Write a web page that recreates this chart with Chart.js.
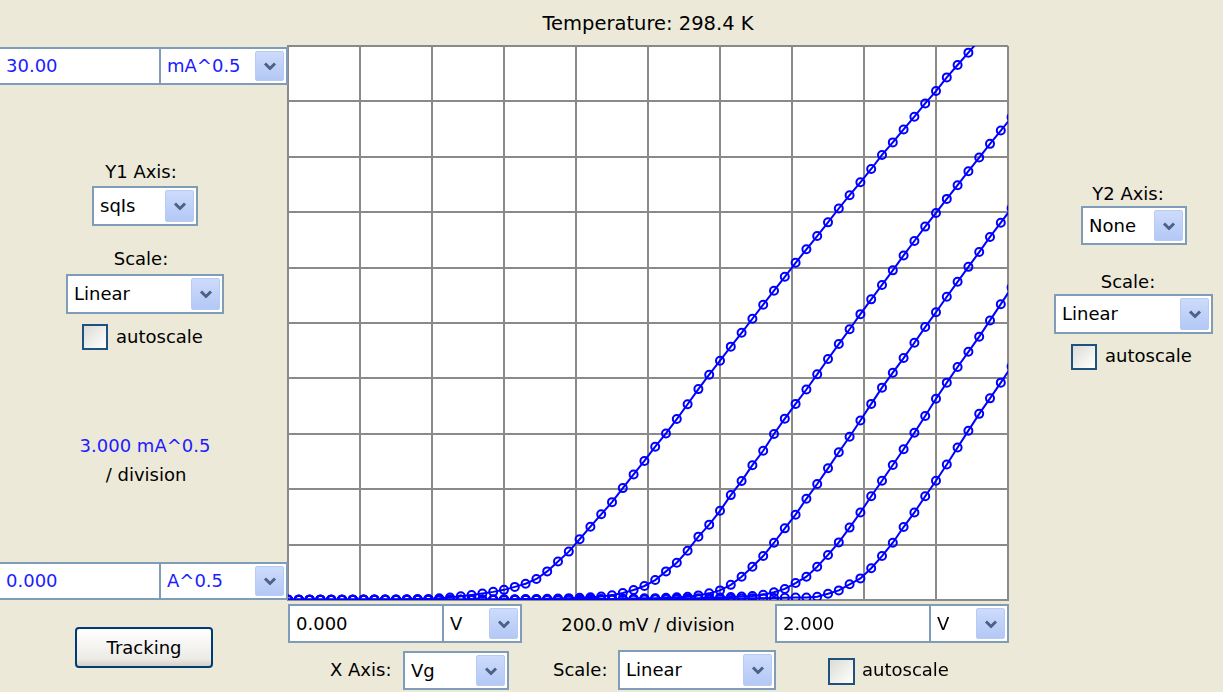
<!DOCTYPE html>
<html>
<head>
<meta charset="utf-8">
<script src="https://cdn.jsdelivr.net/npm/chart.js@4.4.0/dist/chart.umd.min.js"></script>
<style>
body { margin: 0; background: #ece9d8; font-family: "DejaVu Sans", sans-serif; font-size: 18px; }
#wrap { position: relative; width: 1223px; height: 692px; overflow: hidden; background: #ece9d8; }
#plot { position: absolute; left: 278px; top: 36px; }
.lbl { position: absolute; white-space: nowrap; color: #000; line-height: 22px; }
.c { transform: translateX(-50%); }
.blue { color: #1c1cff; }
.box { position: absolute; box-sizing: border-box; background: #fff; border: 2px solid #7f9db9; white-space: nowrap; }
.box span { position: absolute; left: 6px; top: 50%; transform: translateY(-50%); line-height: 22px; }
.btn { position: absolute; right: 2px; top: 2px; bottom: 2px; width: 29px; box-sizing: border-box;
  background: linear-gradient(#cddbfc, #b3c8f5); border: 1px solid #b9cbf3; border-radius: 2px; }
.btn svg { position: absolute; left: 50%; top: 50%; transform: translate(-50%, -50%); }
.chk { position: absolute; box-sizing: border-box; border: 2px solid #1c5180; background: linear-gradient(135deg, #dcdcd4, #ffffff); }
.push { position: absolute; box-sizing: border-box; border: 2px solid #003c74; border-radius: 4px;
  background: linear-gradient(#ffffff, #ecebe6 80%, #d6d0c5); display: flex; align-items: center; justify-content: center; }
</style>
</head>
<body>
<div id="wrap">
  <canvas id="plot" width="740" height="574"></canvas>

  <div class="lbl c" style="left:648px;top:13px;font-size:19.5px">Temperature: 298.4 K</div>

  <!-- colonna sinistra -->
  <div class="box" style="left:-2px;top:47px;width:163px;height:38px"><span class="blue">30.00</span></div>
  <div class="box" style="left:159px;top:47px;width:129px;height:38px"><span class="blue">mA^0.5</span><div class="btn"></div></div>
  <div class="lbl c" style="left:141px;top:161px">Y1 Axis:</div>
  <div class="box" style="left:92px;top:186px;width:106px;height:40px"><span>sqIs</span><div class="btn"></div></div>
  <div class="lbl c" style="left:141px;top:248px">Scale:</div>
  <div class="box" style="left:66px;top:274px;width:158px;height:40px"><span>Linear</span><div class="btn"></div></div>
  <div class="chk" style="left:82px;top:324px;width:26px;height:26px"></div>
  <div class="lbl" style="left:116px;top:326px">autoscale</div>
  <div class="lbl c blue" style="left:145px;top:435px">3.000 mA^0.5</div>
  <div class="lbl c" style="left:146px;top:464px">/ division</div>
  <div class="box" style="left:-2px;top:562px;width:163px;height:38px"><span class="blue">0.000</span></div>
  <div class="box" style="left:159px;top:562px;width:129px;height:38px"><span class="blue">A^0.5</span><div class="btn"></div></div>
  <div class="push" style="left:75px;top:627px;width:138px;height:41px">Tracking</div>

  <!-- riga in basso -->
  <div class="box" style="left:288px;top:604px;width:156px;height:39px"><span>0.000</span></div>
  <div class="box" style="left:442px;top:604px;width:80px;height:39px"><span>V</span><div class="btn"></div></div>
  <div class="lbl c" style="left:648px;top:614px">200.0 mV / division</div>
  <div class="box" style="left:775px;top:604px;width:156px;height:39px"><span>2.000</span></div>
  <div class="box" style="left:929px;top:604px;width:80px;height:39px"><span>V</span><div class="btn"></div></div>
  <div class="lbl" style="left:330px;top:659px">X Axis:</div>
  <div class="box" style="left:403px;top:651px;width:106px;height:39px"><span>Vg</span><div class="btn"></div></div>
  <div class="lbl" style="left:553px;top:659px">Scale:</div>
  <div class="box" style="left:618px;top:650px;width:158px;height:40px"><span>Linear</span><div class="btn"></div></div>
  <div class="chk" style="left:828px;top:658px;width:27px;height:27px"></div>
  <div class="lbl" style="left:862px;top:659px">autoscale</div>

  <!-- colonna destra -->
  <div class="lbl c" style="left:1128px;top:183px">Y2 Axis:</div>
  <div class="box" style="left:1081px;top:206px;width:106px;height:39px"><span>None</span><div class="btn"></div></div>
  <div class="lbl c" style="left:1128px;top:271px">Scale:</div>
  <div class="box" style="left:1054px;top:294px;width:159px;height:40px"><span>Linear</span><div class="btn"></div></div>
  <div class="chk" style="left:1071px;top:344px;width:26px;height:26px"></div>
  <div class="lbl" style="left:1105px;top:345px">autoscale</div>
</div>

<script>
// tensione di gate (V)
var vg = [0.00, 0.03, 0.06, 0.09, 0.12, 0.15, 0.18, 0.21, 0.24, 0.27,
  0.30, 0.33, 0.36, 0.39, 0.42, 0.45, 0.48, 0.51, 0.54, 0.57,
  0.60, 0.63, 0.66, 0.69, 0.72, 0.75, 0.78, 0.81, 0.84, 0.87,
  0.90, 0.93, 0.96, 0.99, 1.02, 1.05, 1.08, 1.11, 1.14, 1.17,
  1.20, 1.23, 1.26, 1.29, 1.32, 1.35, 1.38, 1.41, 1.44, 1.47,
  1.50, 1.53, 1.56, 1.59, 1.62, 1.65, 1.68, 1.71, 1.74, 1.77,
  1.80, 1.83, 1.86, 1.89, 1.92, 1.95, 1.98, 2.01];

// sqrt(Is) in mA^0.5, una curva per ogni traccia
var curva1 = [0.02, 0.02, 0.02, 0.02, 0.02, 0.02, 0.02, 0.03, 0.03, 0.03,
  0.03, 0.04, 0.05, 0.06, 0.09, 0.14, 0.20, 0.27, 0.35, 0.44,
  0.55, 0.71, 0.88, 1.14, 1.55, 2.08, 2.62, 3.29, 3.97, 4.64,
  5.30, 6.06, 6.80, 7.53, 8.30, 9.02, 9.80, 10.60, 11.42, 12.20,
  12.96, 13.72, 14.47, 15.23, 15.99, 16.75, 17.50, 18.26, 18.99, 19.71,
  20.45, 21.20, 21.92, 22.62, 23.34, 24.10, 24.78, 25.48, 26.17, 26.89,
  27.56, 28.30, 28.97, 29.64, 30.32, 31.00, 31.68, 32.35];
var curva2 = [0.02, 0.02, 0.02, 0.02, 0.02, 0.02, 0.02, 0.02, 0.02, 0.02,
  0.02, 0.02, 0.02, 0.02, 0.02, 0.02, 0.02, 0.03, 0.03, 0.03,
  0.04, 0.04, 0.05, 0.06, 0.07, 0.08, 0.10, 0.12, 0.15, 0.19,
  0.26, 0.38, 0.54, 0.76, 1.08, 1.55, 2.02, 2.67, 3.43, 4.08,
  4.83, 5.68, 6.44, 7.30, 8.08, 8.99, 9.82, 10.62, 11.40, 12.22,
  13.05, 13.86, 14.66, 15.48, 16.28, 17.06, 17.85, 18.66, 19.44, 20.22,
  20.96, 21.72, 22.46, 23.22, 23.96, 24.70, 25.42, 26.14];
var curva3 = [0.02, 0.02, 0.02, 0.02, 0.02, 0.02, 0.02, 0.02, 0.02, 0.02,
  0.02, 0.02, 0.02, 0.02, 0.02, 0.02, 0.02, 0.02, 0.02, 0.02,
  0.02, 0.02, 0.03, 0.03, 0.03, 0.03, 0.04, 0.04, 0.05, 0.05,
  0.06, 0.07, 0.08, 0.09, 0.10, 0.12, 0.15, 0.18, 0.25, 0.36,
  0.52, 0.82, 1.26, 1.80, 2.38, 3.10, 3.88, 4.62, 5.48, 6.28,
  7.13, 8.00, 8.84, 9.72, 10.62, 11.50, 12.31, 13.10, 13.93, 14.78,
  15.58, 16.42, 17.23, 18.04, 18.84, 19.66, 20.43, 21.22];
var curva4 = [0.02, 0.02, 0.02, 0.02, 0.02, 0.02, 0.02, 0.02, 0.02, 0.02,
  0.02, 0.02, 0.02, 0.02, 0.02, 0.02, 0.02, 0.02, 0.02, 0.02,
  0.02, 0.02, 0.02, 0.02, 0.02, 0.02, 0.02, 0.02, 0.02, 0.02,
  0.03, 0.03, 0.04, 0.04, 0.05, 0.06, 0.07, 0.08, 0.10, 0.12,
  0.14, 0.16, 0.19, 0.22, 0.28, 0.42, 0.60, 0.92, 1.26, 1.80,
  2.44, 3.12, 3.92, 4.74, 5.62, 6.46, 7.31, 8.16, 9.06, 9.96,
  10.90, 11.77, 12.62, 13.44, 14.26, 15.14, 16.02, 16.92];
var curva5 = [0.02, 0.02, 0.02, 0.02, 0.02, 0.02, 0.02, 0.02, 0.02, 0.02,
  0.02, 0.02, 0.02, 0.02, 0.02, 0.02, 0.02, 0.02, 0.02, 0.02,
  0.02, 0.02, 0.02, 0.02, 0.02, 0.02, 0.02, 0.02, 0.02, 0.03,
  0.03, 0.03, 0.03, 0.04, 0.04, 0.04, 0.05, 0.05, 0.05, 0.06,
  0.06, 0.07, 0.08, 0.09, 0.10, 0.11, 0.12, 0.13, 0.14, 0.18,
  0.34, 0.52, 0.85, 1.17, 1.72, 2.38, 3.10, 3.95, 4.74, 5.62,
  6.46, 7.34, 8.26, 9.17, 10.08, 10.92, 11.77, 12.65];

var curve = [curva1, curva2, curva3, curva4, curva5];

// freccette dei menu a tendina
var bottoni = document.querySelectorAll('.btn');
for (var i = 0; i < bottoni.length; i++) {
  bottoni[i].innerHTML = '<svg width="14" height="9"><polyline points="2,2 7,7 12,2" fill="none" stroke="#4d6185" stroke-width="3"/></svg>';
}

var sfondoBianco = {
  id: 'sfondoBianco',
  beforeDraw: function (chart) {
    var a = chart.chartArea;
    chart.ctx.save();
    chart.ctx.fillStyle = '#ffffff';
    chart.ctx.fillRect(a.left, a.top, a.right - a.left, a.bottom - a.top);
    chart.ctx.restore();
  }
};

var datasets = [];
for (var c = 0; c < curve.length; c++) {
  var punti = [];
  for (var k = 0; k < vg.length; k++) {
    punti.push({ x: vg[k], y: curve[c][k] });
  }
  datasets.push({
    data: punti,
    borderColor: '#0000ff',
    borderWidth: 2,
    pointRadius: 4,
    pointBorderWidth: 2,
    pointBorderColor: '#0000ff',
    pointBackgroundColor: 'rgba(0,0,0,0)',
    tension: 0,
    clip: 0
  });
}

var griglia = { color: '#8a8a8a', lineWidth: 2, drawTicks: false };

var ctx = document.getElementById('plot').getContext('2d');
var grafico = new Chart(ctx, {
  type: 'line',
  data: { datasets: datasets },
  options: {
    responsive: false,
    animation: false,
    layout: { padding: 10 },
    plugins: { legend: { display: false }, tooltip: { enabled: false } },
    scales: {
      x: { type: 'linear', min: 0, max: 2, ticks: { display: false, stepSize: 0.2 },
           grid: griglia, border: { color: '#8a8a8a', width: 2 } },
      y: { type: 'linear', min: 0, max: 30, ticks: { display: false, stepSize: 3 },
           grid: griglia, border: { color: '#8a8a8a', width: 2 } }
    }
  },
  plugins: [sfondoBianco]
});
</script>
</body>
</html>
